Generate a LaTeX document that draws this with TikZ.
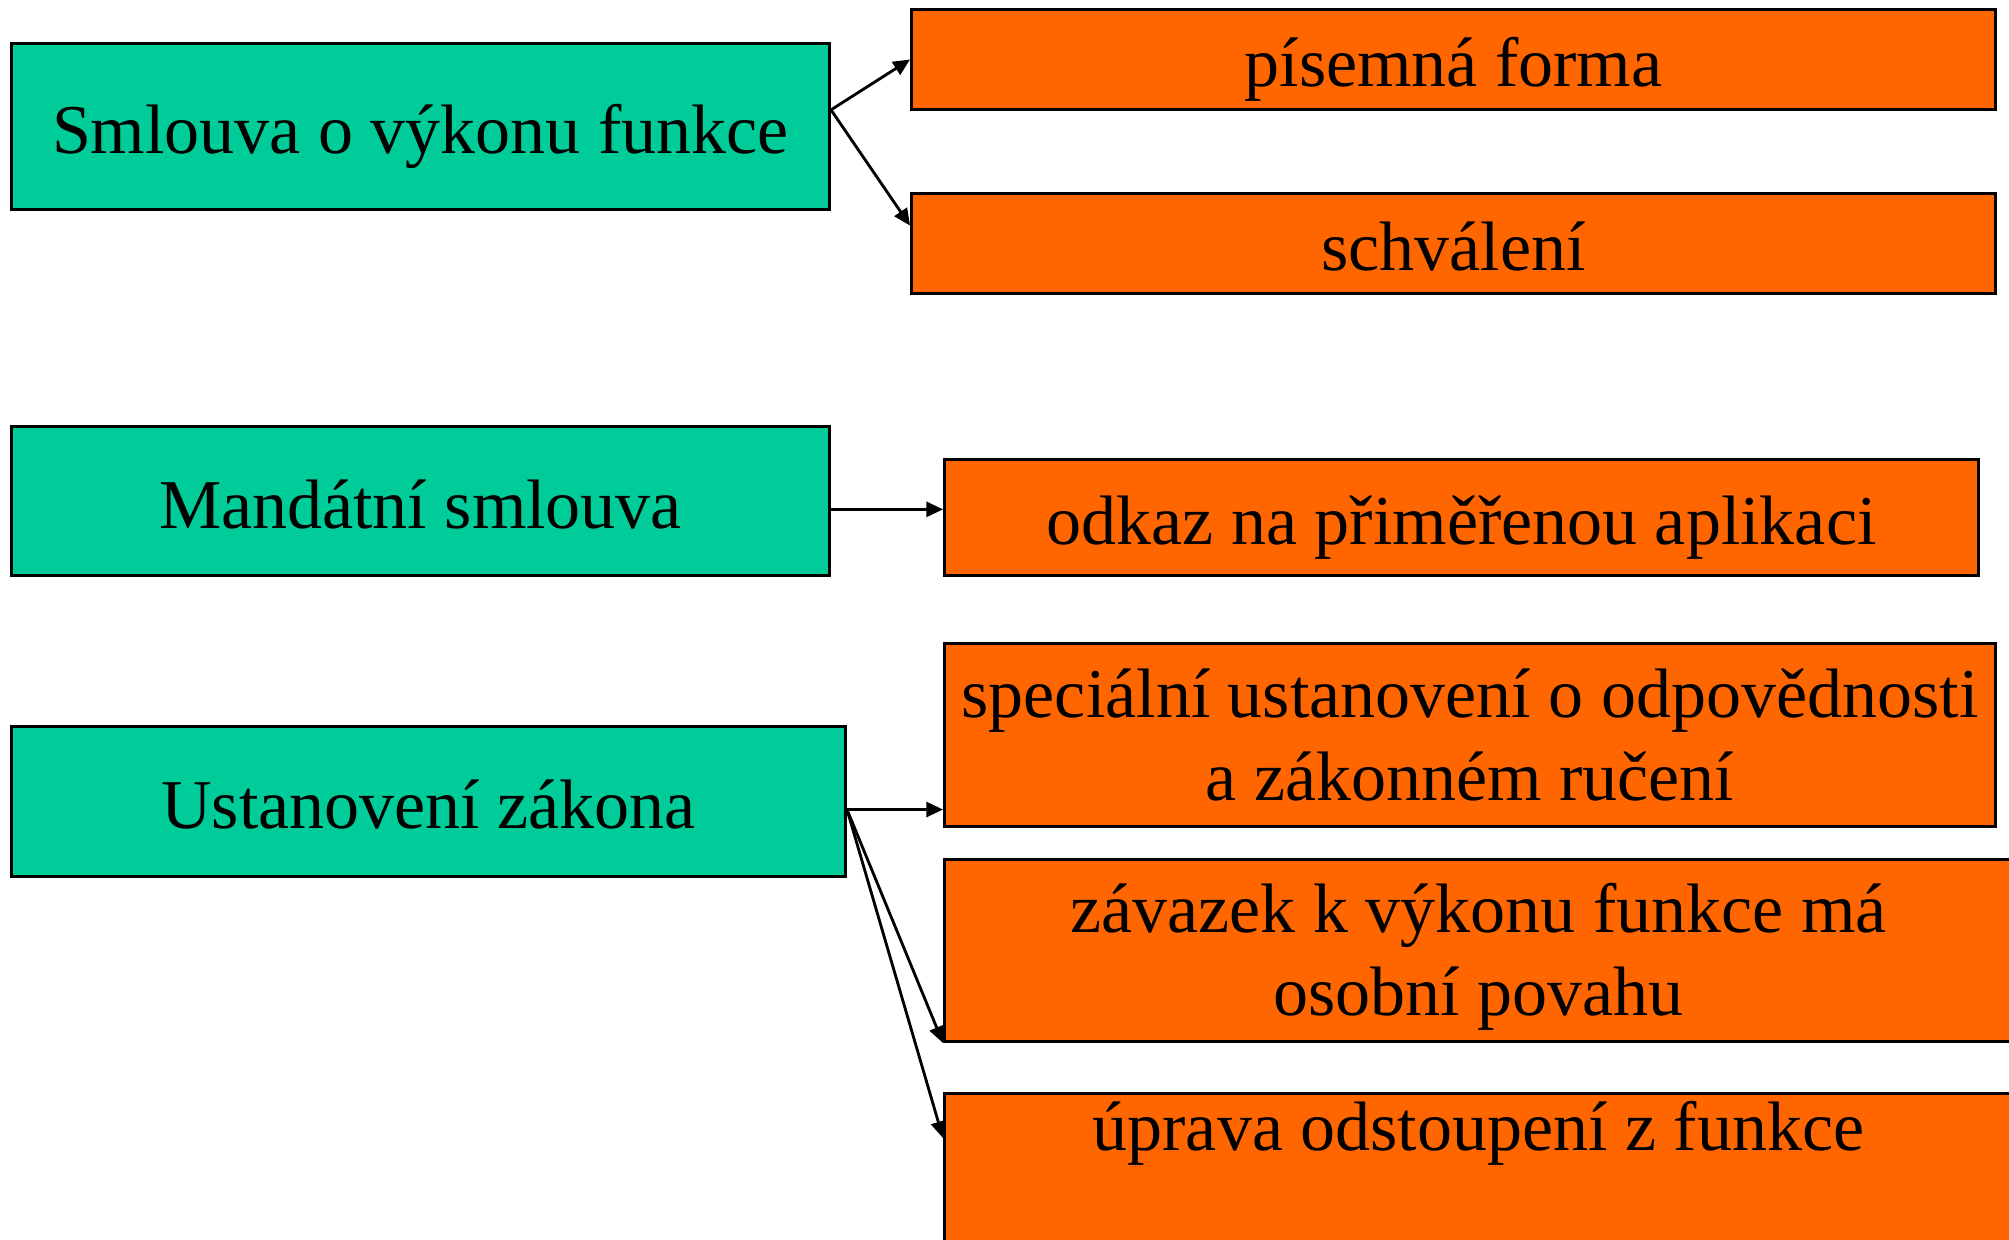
\documentclass[tikz,border=0pt]{standalone}
\usepackage{fontspec}
\setmainfont{Liberation Serif}
\usepackage{tikz}
\usetikzlibrary{arrows.meta}
\definecolor{zelena}{HTML}{00CC99}
\definecolor{oranzova}{HTML}{FF6600}
% 行距支撑
\newcommand{\hornistrut}{\rule{0pt}{21pt}}
\newcommand{\dolnistrut}{\rule[-6.9pt]{0pt}{0pt}}

\begin{document}
\begin{tikzpicture}[x=0.3pt, y=-0.3pt]
  % 定义样式
  \tikzset{box/.style = {draw, line width=0.9pt, inner sep=0pt, anchor=north west, align=center,
      font=\fontsize{21pt}{24.9pt}\selectfont}}
  \tikzset{oneline/.style = {text height=21pt, text depth=4.8pt}}
  \tikzset{gbox/.style = {box, oneline, fill=zelena}}
  \tikzset{obox/.style = {box, fill=oranzova}}
  \tikzset{link/.style = {draw, line width=0.85pt, -{Triangle[length=5pt, width=4.5pt]}}}

  \useasboundingbox (0,0) rectangle (2009,1239);
  \clip (0,0) rectangle (2009,1239);

  % 定义点
  \node[gbox, minimum width=245.4pt, minimum height=49.8pt] (g1) at (10,42) {Smlouva o výkonu funkce};
  \node[gbox, minimum width=245.4pt, minimum height=44.7pt] (g2) at (10,425) {Mandátní smlouva};
  \node[gbox, minimum width=250.2pt, minimum height=45pt] (g3) at (10,725) {Ustanovení zákona};

  \node[obox, oneline, minimum width=325.2pt, minimum height=30pt] (o1) at (910,8) {písemná forma};
  \node[obox, oneline, minimum width=325.2pt, minimum height=30pt] (o2) at (910,192) {schválení};
  \node[obox, oneline, minimum width=310.2pt, minimum height=34.8pt] (o3) at (943,458) {odkaz na přiměřenou aplikaci};
  \node[obox, minimum width=315.3pt, minimum height=54.9pt] (o4) at (943,642)
    {\hornistrut speciální ustanovení o odpovědnosti\\ a zákonném ručení\dolnistrut};
  \node[obox, minimum width=320.4pt, minimum height=54.6pt] (o5) at (943,858)
    {\hornistrut závazek k výkonu funkce má\\ osobní povahu\dolnistrut};
  \node[obox, minimum width=320.4pt, text height=17.1pt, text depth=42.3pt] (o6) at (943,1092)
    {úprava odstoupení z funkce};

  % 定义边
  \draw[link] ([yshift=5pt]g1.east) -- (o1.west);
  \draw[link] ([yshift=5pt]g1.east) -- ([yshift=5.4pt]o2.west);
  \draw[link] ([yshift=-2.5pt]g2.east) -- ([yshift=-2.5pt]g2.east -| o3.west);
  \draw[link] ([yshift=-2.4pt]g3.east) -- ([yshift=-2.4pt]g3.east -| o4.west);
  \draw[link] ([yshift=-2.4pt]g3.east) -- (o5.south west);
  \draw[link] ([yshift=-2.4pt]g3.east) -- ([yshift=-13.8pt]o6.north west);
\end{tikzpicture}
\end{document}
